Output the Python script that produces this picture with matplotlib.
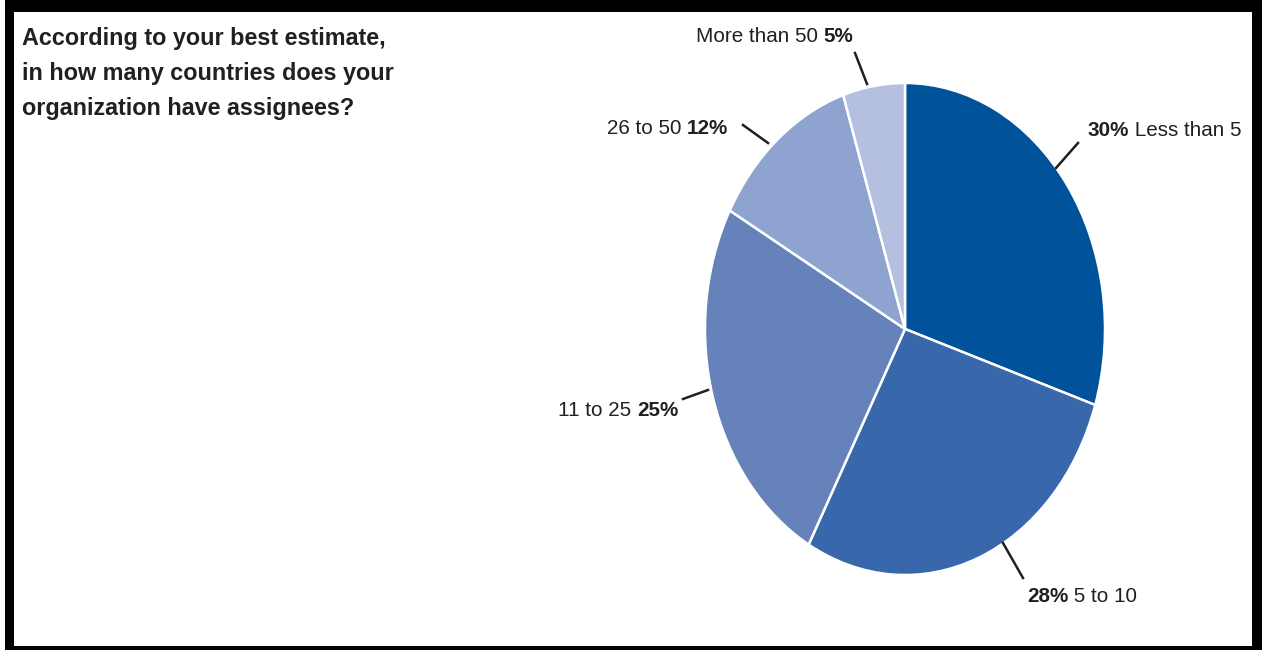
import matplotlib
matplotlib.use("Agg")
import matplotlib.pyplot as plt
from matplotlib.patches import Rectangle
from matplotlib.text import Annotation

# ---- data ----
categories = ["Less than 5", "5 to 10", "11 to 25", "26 to 50", "More than 50"]
values = [30, 28, 25, 12, 5]
pct_labels = ["30%", "28%", "25%", "12%", "5%"]
colors = ["#00529B", "#3868AB", "#6582BA", "#8FA3D0", "#B5BFE0"]
title = "According to your best estimate,\nin how many countries does your\norganization have assignees?"

W, H = 1267, 651
fig = plt.figure(figsize=(W / 100, H / 100), dpi=100)
fig.patch.set_facecolor("white")

FONT = ["Liberation Sans Narrow", "Liberation Sans", "DejaVu Sans"]
txt_color = "#231f20"
FS = 14.9


def fx(px):
    return px / W


def fy(py):
    return 1 - py / H


# black frame
fig.patches.append(Rectangle((fx(5), fy(650)), fx(1262) - fx(5), fy(0) - fy(650),
                             transform=fig.transFigure, facecolor="black",
                             edgecolor="none", zorder=-3))
fig.patches.append(Rectangle((fx(14), fy(646)), fx(1252) - fx(14), fy(12) - fy(646),
                             transform=fig.transFigure, facecolor="white",
                             edgecolor="none", zorder=-2))

# pie axes (ellipse bounding box)
cx0, cx1, cy0, cy1 = 705, 1105, 83, 575
ax = fig.add_axes([fx(cx0), fy(cy1), fx(cx1) - fx(cx0), fy(cy0) - fy(cy1)])
ax.set_zorder(5)
ax.pie(values, colors=colors, startangle=90, counterclock=False,
       wedgeprops=dict(edgecolor="white", linewidth=1.8))
ax.set_aspect("auto")
ax.set_xlim(-1, 1)
ax.set_ylim(-1, 1)
ax.set_axis_off()

# title
fig.text(fx(22), fy(27), title, ha="left", va="top", fontsize=16.8,
         fontweight="bold", family=FONT, color=txt_color, linespacing=1.66,
         zorder=6)

# leader lines (pixel coords): start at wedge, end near label
leaders = [((1056, 168), (1078, 143)),
           ((1003, 543), (1023, 578)),
           ((708, 390), (683, 399)),
           ((768, 143), (743, 125)),
           ((867, 84), (855, 53))]
for (x0, y0), (x1, y1) in leaders:
    fig.add_artist(plt.Line2D([fx(x0), fx(x1)], [fy(y0), fy(y1)],
                              transform=fig.transFigure, color=txt_color,
                              linewidth=1.8, zorder=6))


def main_text(px, py, txt, ha):
    return fig.text(fx(px), fy(py), txt, ha=ha, va="center", fontsize=FS,
                    fontweight="bold", family=FONT, color=txt_color, zorder=6)


def attach(anchor, txt, side):
    xy = (1, 0) if side == "after" else (0, 0)
    ha = "left" if side == "after" else "right"
    a = Annotation(txt, xy=xy, xycoords=anchor, ha=ha, va="bottom",
                   fontsize=FS, family=FONT, color=txt_color,
                   annotation_clip=False, zorder=6)
    fig.add_artist(a)
    return a


# 30% Less than 5
t = main_text(1088, 131, pct_labels[0], "left")
attach(t, " " + categories[0], "after")

# 28% 5 to 10
t = main_text(1027, 596, pct_labels[1], "left")
attach(t, " " + categories[1], "after")

# 11 to 25 25%
t = main_text(678, 410, pct_labels[2], "right")
attach(t, categories[2] + " ", "before")

# 26 to 50 12%
t = main_text(728, 128, pct_labels[3], "right")
attach(t, categories[3] + " ", "before")

# More than 50 5%
t = main_text(853, 37, pct_labels[4], "right")
attach(t, categories[4] + " ", "before")

fig.savefig("out.png", dpi=100, facecolor="white")
